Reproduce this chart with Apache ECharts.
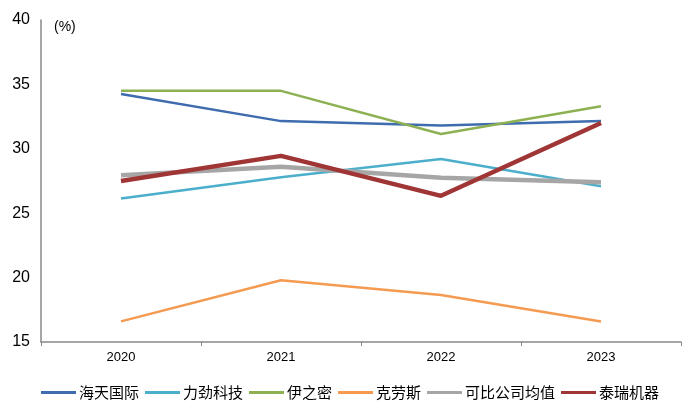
<!DOCTYPE html>
<html>
<head>
<meta charset="utf-8">
<script src="https://cdn.jsdelivr.net/npm/echarts@6/dist/echarts.min.js"></script>
<style>html,body{margin:0;padding:0;background:#fff}#c{width:700px;height:415px}</style>
</head>
<body>
<div id="c"></div>
<script>
var years = ['2020', '2021', '2022', '2023'];
var haitian = [34.25, 32.15, 31.8, 32.15];
var lijin = [26.15, 27.8, 29.2, 27.1];
var yizhimi = [34.5, 34.5, 31.15, 33.3];
var kraus = [16.6, 19.8, 18.65, 16.6];
var avg = [27.95, 28.6, 27.75, 27.4];
var tairui = [27.5, 29.45, 26.35, 32.0];
var yTicks = [15, 20, 25, 30, 35, 40];

var font = '"Liberation Sans", Arial, "Noto Sans CJK SC", sans-serif';
function mk(name, data, color, width) {
  return { name: name, type: 'line', data: data, symbol: 'none', smooth: false,
    lineStyle: { color: color, width: width }, itemStyle: { color: color } };
}
var chart = echarts.init(document.getElementById('c'));
chart.setOption({
  animation: false,
  textStyle: { fontFamily: font },
  grid: { left: 41, right: 19, top: 20, bottom: 73, containLabel: false },
  legend: {
    top: 380, left: 'center', icon: 'rect', itemWidth: 35, itemHeight: 3, itemGap: 6,
    textStyle: { fontSize: 15, color: '#000', fontFamily: '"Noto Sans CJK SC", sans-serif', padding: [0, 0, 0, -2] }
  },
  xAxis: {
    type: 'category', data: years, boundaryGap: true,
    axisLine: { lineStyle: { color: '#888', width: 1.5 } },
    axisTick: { show: true, length: 4, lineStyle: { color: '#888' } },
    axisLabel: { fontSize: 13, color: '#000', margin: 9 }
  },
  yAxis: {
    type: 'value', min: yTicks[0], max: yTicks[yTicks.length - 1], interval: 5,
    name: '(%)', nameLocation: 'end', nameGap: -14,
    nameTextStyle: { fontSize: 14, color: '#000', align: 'left', padding: [0, 0, 0, 13] },
    splitLine: { show: false },
    axisLine: { show: true, lineStyle: { color: '#888', width: 1.5 } },
    axisTick: { show: false },
    axisLabel: { fontSize: 16, color: '#000', margin: 11 }
  },
  series: [
    mk('海天国际', haitian, '#3E6CAE', 2.5),
    mk('力劲科技', lijin, '#4BAFCB', 2.5),
    mk('伊之密', yizhimi, '#8DB152', 2.5),
    mk('克劳斯', kraus, '#F59A51', 2.5),
    mk('可比公司均值', avg, '#A6A6A6', 4.5),
    mk('泰瑞机器', tairui, '#A03536', 4.5)
  ]
});
</script>
</body>
</html>
